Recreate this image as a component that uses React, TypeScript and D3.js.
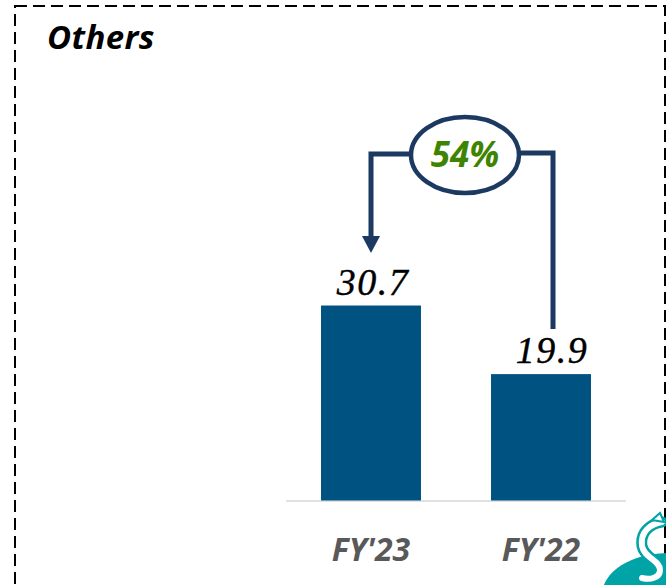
import { useEffect, useRef } from 'react'
import * as d3 from 'd3'

const W = 666
const H = 585

const categories = ["FY'23", "FY'22"]
const values = [30.7, 19.9]
const valueLabels = ['30.7', '19.9']
const growthLabel = '54%'
const title = 'Others'

const NAVY = '#1c3961'
const BAR = '#005381'

export default function App() {
  const svgRef = useRef<SVGSVGElement>(null)

  useEffect(() => {
    const svg = d3.select(svgRef.current)
    svg.selectAll('*').remove()

    // frame (dashed box, bottom edge runs off the page)
    svg.append('rect')
      .attr('x', 15).attr('y', 6).attr('width', 650).attr('height', 620)
      .attr('fill', 'none').attr('stroke', '#000').attr('stroke-width', 2).attr('stroke-dasharray', '12,6')

    svg.append('text')
      .attr('x', 47).attr('y', 49)
      .attr('font-family', '"Open Sans", sans-serif').attr('font-weight', 700).attr('font-style', 'italic')
      .attr('font-size', 33).attr('letter-spacing', 0.4).attr('fill', '#000')
      .text(title)

    const x = d3.scaleBand<string>().domain(categories).range([286, 626]).paddingInner(0.412).paddingOuter(0.206)
    const y = d3.scaleLinear().domain([0, 35]).range([500.5, 278.2])
    const bw = x.bandwidth()

    // baseline
    svg.append('line')
      .attr('x1', 286).attr('x2', 626).attr('y1', y(0) + 0.5).attr('y2', y(0) + 0.5)
      .attr('stroke', '#d9d9d9').attr('stroke-width', 1.5)

    svg.selectAll('rect.bar').data(values).join('rect')
      .attr('class', 'bar')
      .attr('x', (_, i) => x(categories[i])!)
      .attr('width', bw)
      .attr('y', d => y(d))
      .attr('height', d => y(0) - y(d))
      .attr('fill', BAR)

    // value labels (second one sits a bit right, under the connector)
    const labelDx = [2, 11]
    svg.selectAll('text.val').data(values).join('text')
      .attr('class', 'val')
      .attr('x', (_, i) => x(categories[i])! + bw / 2 + labelDx[i])
      .attr('y', d => y(d) - 11)
      .attr('text-anchor', 'middle')
      .attr('font-family', '"Liberation Serif", "Times New Roman", serif').attr('font-style', 'italic')
      .attr('font-size', 38).attr('letter-spacing', 1.5).attr('fill', '#000')
      .attr('stroke', '#000').attr('stroke-width', 0.4)
      .text((_, i) => valueLabels[i])

    // category labels
    svg.selectAll('text.cat').data(categories).join('text')
      .attr('class', 'cat')
      .attr('x', d => x(d)! + bw / 2)
      .attr('y', 561)
      .attr('text-anchor', 'middle')
      .attr('font-family', '"Open Sans", sans-serif').attr('font-weight', 700).attr('font-style', 'italic')
      .attr('font-size', 32).attr('fill', '#595959')
      .text(d => d)

    // growth connector: from FY'22 up, across, down into FY'23
    const lx = x(categories[0])! + bw / 2
    const rx = x(categories[1])! + bw / 2 + 12
    const topY = 153
    const ecx = 465, ecy = 155, erx = 54, ery = 38
    svg.append('path')
      .attr('d', `M${rx},${y(values[1]) - 45} V${topY} H${ecx}`)
      .attr('fill', 'none').attr('stroke', NAVY).attr('stroke-width', 5)
    svg.append('path')
      .attr('d', `M${ecx},${topY + 1} H${lx} V${236}`)
      .attr('fill', 'none').attr('stroke', NAVY).attr('stroke-width', 5)
    svg.append('path')
      .attr('d', `M${lx - 9},236 L${lx + 9},236 L${lx},253 Z`)
      .attr('fill', NAVY)

    svg.append('ellipse')
      .attr('cx', ecx).attr('cy', ecy).attr('rx', erx).attr('ry', ery)
      .attr('fill', '#fff').attr('stroke', NAVY).attr('stroke-width', 4.5)
    svg.append('text')
      .attr('x', ecx).attr('y', 167)
      .attr('text-anchor', 'middle')
      .attr('font-family', '"Open Sans", sans-serif').attr('font-weight', 700).attr('font-style', 'italic')
      .attr('font-size', 35).attr('fill', '#3f8400')
      .text(growthLabel)

    // corner logo, mostly off-page
    const logo = svg.append('g')
    logo.append('ellipse')
      .attr('cx', 668).attr('cy', 595).attr('rx', 66).attr('ry', 42)
      .attr('fill', '#00a3a6')
    const sPath = 'M662,522 C650,524 640,532 642,546 C644,558 660,560 660,570 C660,578 650,580 642,578'
    logo.append('path')
      .attr('d', sPath)
      .attr('fill', 'none').attr('stroke', '#00a3a6').attr('stroke-width', 11).attr('stroke-linecap', 'round')
    logo.append('path')
      .attr('d', sPath)
      .attr('fill', 'none').attr('stroke', '#fff').attr('stroke-width', 6).attr('stroke-linecap', 'round')
    logo.append('path')
      .attr('d', 'M652,520 L660,513 L664,522 Z')
      .attr('fill', '#fff').attr('stroke', '#00a3a6').attr('stroke-width', 2)
  }, [])

  return (
    <div style={{ position: 'fixed', left: 0, top: 0, width: W, height: H, background: '#fff' }}>
      <svg ref={svgRef} width={W} height={H} style={{ display: 'block' }} />
    </div>
  )
}
